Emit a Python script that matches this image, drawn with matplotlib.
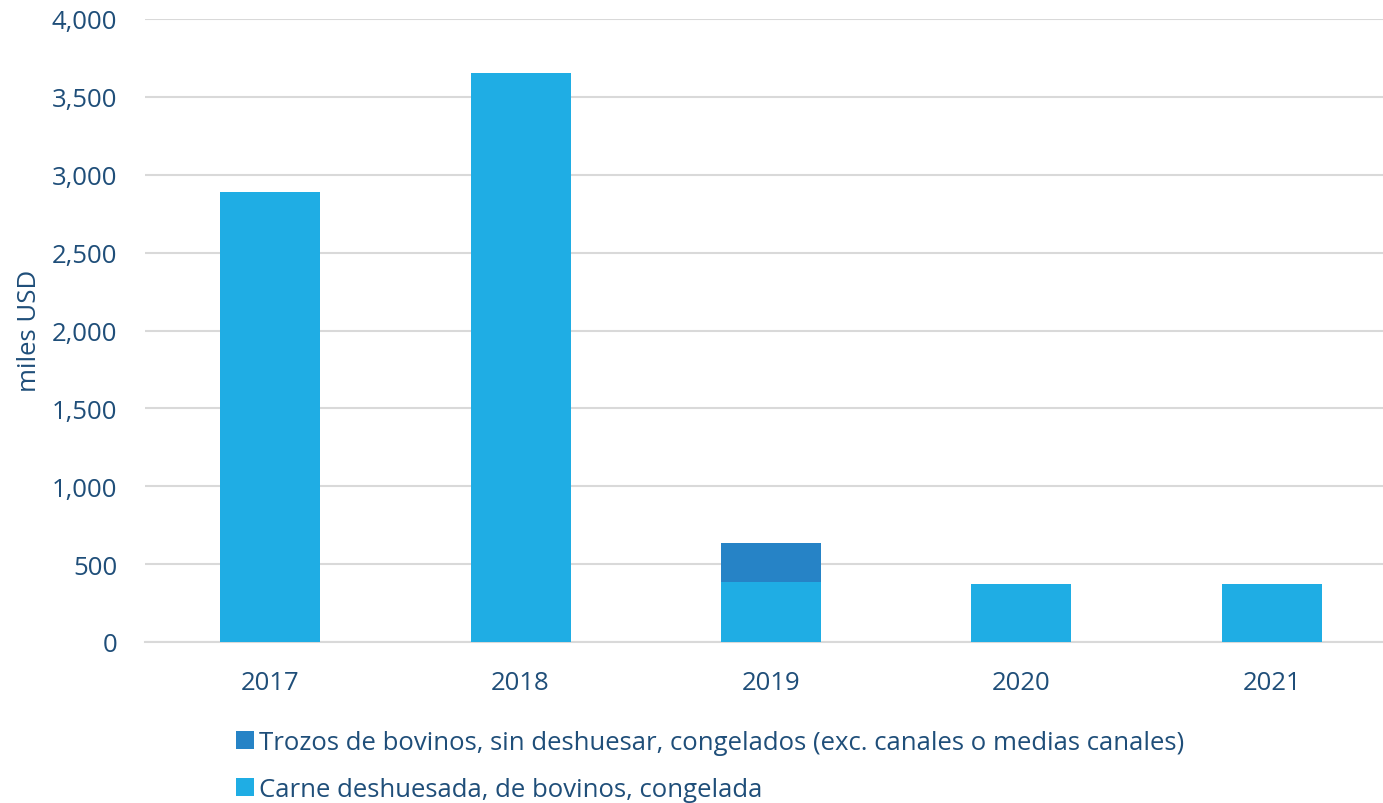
import matplotlib
matplotlib.use("Agg")
import matplotlib.pyplot as plt
import numpy as np
from matplotlib.ticker import FuncFormatter, MultipleLocator

years = ["2017", "2018", "2019", "2020", "2021"]
carne = [2888, 3655, 384, 374, 370]
trozos = [0, 0, 249, 0, 0]
series_names = ["Trozos de bovinos, sin deshuesar, congelados (exc. canales o medias canales)",
                "Carne deshuesada, de bovinos, congelada"]

plt.rcParams['font.family'] = ['Open Sans', 'DejaVu Sans']
text_color = "#1F4E79"
c_light = "#1FADE4"
c_dark = "#2683C6"

fig = plt.figure(figsize=(13.83, 8.04), dpi=100)
ax = fig.add_axes([145/1383, 1-643/804, (1397-145)/1383, (643-20)/804])

x = np.arange(len(years))
b1 = ax.bar(x, carne, width=0.40, color=c_light, zorder=3, label=series_names[1])
b2 = ax.bar(x, trozos, width=0.40, bottom=carne, color=c_dark, zorder=3, label=series_names[0])

ax.set_xlim(-0.5, 4.5)
ax.set_ylim(0, 4000)
ax.yaxis.set_major_locator(MultipleLocator(500))
ax.yaxis.set_major_formatter(FuncFormatter(lambda v, p: f"{int(v):,}"))
ax.grid(axis='y', color="#D9D9D9", linewidth=1.5, zorder=0)
for s in ["top", "right", "left"]:
    ax.spines[s].set_visible(False)
ax.spines["bottom"].set_color("#D9D9D9")
ax.spines["bottom"].set_linewidth(1.5)
ax.tick_params(axis='both', length=0, labelsize=18.5, labelcolor=text_color)
ax.tick_params(axis='y', pad=20)
ax.tick_params(axis='x', pad=20)
ax.set_xticks(x)
ax.set_xticklabels(years)
fig.text(30/1383, 1-331/804, "miles USD", rotation=90, fontsize=18.5, color=text_color,
         ha="center", va="center")

leg = fig.legend(handles=[b2, b1], labels=[series_names[0], series_names[1]],
                 loc="upper left", bbox_to_anchor=(236/1383, 1-731/804),
                 frameon=False, fontsize=18.5, labelcolor=text_color,
                 handlelength=0.7, handleheight=0.7, handletextpad=0.2,
                 labelspacing=0.85, borderaxespad=0, borderpad=0)

fig.savefig("out.png", dpi=100)
